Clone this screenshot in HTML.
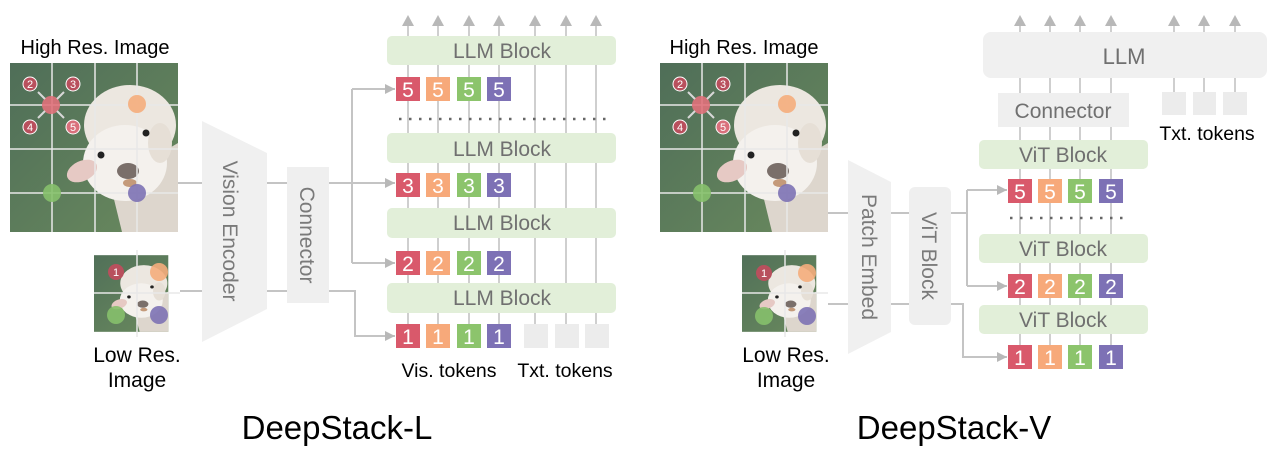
<!DOCTYPE html>
<html><head><meta charset="utf-8"><style>
html,body{margin:0;padding:0;background:#fff;}
svg{display:block;}
text{font-family:"Liberation Sans",Arial,sans-serif;}
</style></head><body>
<svg width="1280" height="460" viewBox="0 0 1280 460" xmlns="http://www.w3.org/2000/svg">
<defs>
 <linearGradient id="bg" x1="0" y1="0" x2="1" y2="1">
  <stop offset="0" stop-color="#4f6e58"/><stop offset="1" stop-color="#6a8a5e"/>
 </linearGradient>
 <symbol id="alp" viewBox="0 0 168 169">
  <rect width="168" height="169" fill="url(#bg)"/>
  <polygon points="100,120 168,80 168,169 112,169" fill="#ddd6cd"/>
  <ellipse cx="120" cy="62" rx="46" ry="40" fill="#ece7e0"/>
  <ellipse cx="115" cy="100" rx="42" ry="38" fill="#f4f1ed"/>
  <ellipse cx="72" cy="108" rx="16" ry="10" fill="#e6c9c4" transform="rotate(-25 72 108)"/>
  <ellipse cx="150" cy="80" rx="12" ry="20" fill="#e6dfd6"/>
  <circle cx="91" cy="92" r="3.5" fill="#222"/>
  <circle cx="136" cy="70" r="3.5" fill="#222"/>
  <ellipse cx="118" cy="108" rx="11" ry="8" fill="#7a6f6a"/>
  <ellipse cx="120" cy="120" rx="7" ry="4" fill="#c49a7a"/>
 </symbol>
 <marker id="ah" viewBox="0 0 10 10" refX="10" refY="5" markerWidth="10" markerHeight="10" markerUnits="userSpaceOnUse" orient="auto">
  <path d="M0,0 L10,5 L0,10 z" fill="#b8b8b8"/>
 </marker>
</defs>

<!-- ================= LEFT: DeepStack-L ================= -->
<text x="95" y="54" font-size="20" text-anchor="middle" fill="#000">High Res. Image</text>
<svg x="10" y="63" width="168" height="169" viewBox="0 0 168 169" preserveAspectRatio="none"><use href="#alp"/></svg>
<g stroke="#e8e8e8" stroke-width="1.5">
 <line x1="52" y1="63" x2="52" y2="232"/><line x1="95" y1="63" x2="95" y2="232"/><line x1="137" y1="63" x2="137" y2="232"/>
 <line x1="10" y1="105" x2="178" y2="105"/><line x1="10" y1="149" x2="178" y2="149"/><line x1="10" y1="193" x2="178" y2="193"/>
</g>
<g id="dotsHi">
 <circle cx="51" cy="105" r="9" fill="#e0717a" opacity="0.9"/>
 <circle cx="137" cy="104" r="9" fill="#f5ad7c" opacity="0.9"/>
 <circle cx="52" cy="193" r="9" fill="#86c06c" opacity="0.9"/>
 <circle cx="137" cy="193" r="9" fill="#7d72b4" opacity="0.9"/>
 <g stroke="#d8d8d8" stroke-width="2">
  <line x1="45" y1="99" x2="38" y2="92"/><line x1="57" y1="99" x2="64" y2="92"/>
  <line x1="45" y1="111" x2="38" y2="118"/><line x1="57" y1="111" x2="64" y2="118"/>
 </g>
 <g font-size="11" fill="#fff" text-anchor="middle">
  <circle cx="30" cy="84" r="7" fill="#b8505d" stroke="#fff" stroke-width="1"/><text x="30" y="88">2</text>
  <circle cx="73" cy="84" r="7" fill="#b8505d" stroke="#fff" stroke-width="1"/><text x="73" y="88">3</text>
  <circle cx="30" cy="127" r="7" fill="#b8505d" stroke="#fff" stroke-width="1"/><text x="30" y="131">4</text>
  <circle cx="73" cy="127" r="7" fill="#d9707c" stroke="#fff" stroke-width="1"/><text x="73" y="131">5</text>
 </g>
</g>
<svg x="94" y="250" width="86" height="87" viewBox="20 0 148 169" preserveAspectRatio="none"><use href="#alp"/></svg>
<g stroke="#e8e8e8" stroke-width="1.5"><line x1="137" y1="250" x2="137" y2="337"/><line x1="94" y1="293" x2="180" y2="293"/></g>
<circle cx="116" cy="272" r="8" fill="#b8505d"/><text x="116" y="276" font-size="11" fill="#fff" text-anchor="middle">1</text>
<circle cx="159" cy="272" r="9" fill="#f5ad7c" opacity="0.9"/>
<circle cx="116" cy="315" r="9" fill="#86c06c" opacity="0.9"/>
<circle cx="159" cy="315" r="9" fill="#7d72b4" opacity="0.9"/>
<text x="137" y="362" font-size="21" text-anchor="middle">Low Res.</text>
<text x="137" y="387" font-size="21" text-anchor="middle">Image</text>

<g stroke="#c4c4c4" stroke-width="2" fill="none">
 <line x1="178" y1="183" x2="202" y2="183"/>
 <line x1="180" y1="291" x2="202" y2="291"/>
 <line x1="267" y1="183" x2="287" y2="183"/>
 <line x1="267" y1="291" x2="287" y2="291"/>
</g>
<polygon points="202,121 267,153 267,309 202,342" fill="#f0f0f0"/>
<text transform="translate(223,231) rotate(90)" font-size="21" fill="#7a7a7a" text-anchor="middle">Vision Encoder</text>
<rect x="287" y="167" width="42" height="136" fill="#efefef"/>
<text transform="translate(300,235) rotate(90)" font-size="21" fill="#7a7a7a" text-anchor="middle">Connector</text>

<g stroke="#cfcfcf" stroke-width="2">
 <line x1="408" y1="22" x2="408" y2="324"/><line x1="438" y1="22" x2="438" y2="324"/>
 <line x1="469" y1="22" x2="469" y2="324"/><line x1="499" y1="22" x2="499" y2="324"/>
 <line x1="535" y1="22" x2="535" y2="324"/><line x1="566" y1="22" x2="566" y2="324"/>
 <line x1="596" y1="22" x2="596" y2="324"/>
</g>
<g fill="#b8b8b8">
 <polygon points="402,26 414,26 408,15"/><polygon points="432,26 444,26 438,15"/>
 <polygon points="463,26 475,26 469,15"/><polygon points="493,26 505,26 499,15"/>
 <polygon points="529,26 541,26 535,15"/><polygon points="560,26 572,26 566,15"/>
 <polygon points="590,26 602,26 596,15"/>
</g>
<g fill="#e2efd9">
 <rect x="387" y="36" width="229" height="29" rx="5"/>
 <rect x="387" y="133" width="229" height="30" rx="5"/>
 <rect x="387" y="208" width="229" height="30" rx="5"/>
 <rect x="387" y="283" width="229" height="30" rx="5"/>
</g>
<g font-size="21" fill="#707070" text-anchor="middle">
 <text x="502" y="58">LLM Block</text><text x="502" y="156">LLM Block</text>
 <text x="502" y="230">LLM Block</text><text x="502" y="305">LLM Block</text>
</g>
<g stroke="#666" stroke-width="2.5" stroke-dasharray="2.5,7.5">
 <line x1="399" y1="119" x2="512" y2="119"/><line x1="523" y1="119" x2="606" y2="119"/>
</g>
<g stroke="#c4c4c4" stroke-width="2" fill="none">
 <polyline points="329,183 352,183" />
 <polyline points="352,89 352,263"/>
 <line x1="352" y1="89" x2="395" y2="89" marker-end="url(#ah)"/>
 <line x1="352" y1="183" x2="395" y2="183" marker-end="url(#ah)"/>
 <line x1="352" y1="263" x2="395" y2="263" marker-end="url(#ah)"/>
 <polyline points="329,291 355,291 355,336 395,336" marker-end="url(#ah)"/>
</g>
<g font-size="21" fill="#fff" text-anchor="middle">
 <g><rect x="396" y="77" width="24" height="24" fill="#d9596b"/><rect x="426" y="77" width="24" height="24" fill="#f7a97a"/><rect x="457" y="77" width="24" height="24" fill="#8cc46c"/><rect x="487" y="77" width="24" height="24" fill="#7d71b5"/>
  <text x="408" y="97">5</text><text x="438" y="97">5</text><text x="469" y="97">5</text><text x="499" y="97">5</text></g>
 <g><rect x="396" y="173" width="24" height="24" fill="#d9596b"/><rect x="426" y="173" width="24" height="24" fill="#f7a97a"/><rect x="457" y="173" width="24" height="24" fill="#8cc46c"/><rect x="487" y="173" width="24" height="24" fill="#7d71b5"/>
  <text x="408" y="193">3</text><text x="438" y="193">3</text><text x="469" y="193">3</text><text x="499" y="193">3</text></g>
 <g><rect x="396" y="251" width="24" height="24" fill="#d9596b"/><rect x="426" y="251" width="24" height="24" fill="#f7a97a"/><rect x="457" y="251" width="24" height="24" fill="#8cc46c"/><rect x="487" y="251" width="24" height="24" fill="#7d71b5"/>
  <text x="408" y="271">2</text><text x="438" y="271">2</text><text x="469" y="271">2</text><text x="499" y="271">2</text></g>
 <g><rect x="396" y="324" width="24" height="24" fill="#d9596b"/><rect x="426" y="324" width="24" height="24" fill="#f7a97a"/><rect x="457" y="324" width="24" height="24" fill="#8cc46c"/><rect x="487" y="324" width="24" height="24" fill="#7d71b5"/>
  <text x="408" y="344">1</text><text x="438" y="344">1</text><text x="469" y="344">1</text><text x="499" y="344">1</text></g>
</g>
<g fill="#ececec">
 <rect x="524" y="324" width="24" height="24"/><rect x="555" y="324" width="24" height="24"/><rect x="585" y="324" width="24" height="24"/>
</g>
<text x="449" y="377" font-size="19.5" text-anchor="middle">Vis. tokens</text>
<text x="565" y="377" font-size="19.5" text-anchor="middle">Txt. tokens</text>
<text x="337" y="439" font-size="33" text-anchor="middle">DeepStack-L</text>

<!-- ================= RIGHT: DeepStack-V ================= -->
<text x="744" y="54" font-size="20" text-anchor="middle">High Res. Image</text>
<svg x="660" y="63" width="168" height="169" viewBox="0 0 168 169" preserveAspectRatio="none"><use href="#alp"/></svg>
<g stroke="#e8e8e8" stroke-width="1.5">
 <line x1="702" y1="63" x2="702" y2="232"/><line x1="745" y1="63" x2="745" y2="232"/><line x1="787" y1="63" x2="787" y2="232"/>
 <line x1="660" y1="105" x2="828" y2="105"/><line x1="660" y1="149" x2="828" y2="149"/><line x1="660" y1="193" x2="828" y2="193"/>
</g>
<use href="#dotsHi" transform="translate(650,0)"/>
<svg x="742" y="250" width="86" height="87" viewBox="20 0 148 169" preserveAspectRatio="none"><use href="#alp"/></svg>
<g stroke="#e8e8e8" stroke-width="1.5"><line x1="785" y1="250" x2="785" y2="337"/><line x1="742" y1="293" x2="828" y2="293"/></g>
<circle cx="764" cy="273" r="8" fill="#b8505d"/><text x="764" y="277" font-size="11" fill="#fff" text-anchor="middle">1</text>
<circle cx="807" cy="273" r="9" fill="#f5ad7c" opacity="0.9"/>
<circle cx="764" cy="316" r="9" fill="#86c06c" opacity="0.9"/>
<circle cx="807" cy="316" r="9" fill="#7d72b4" opacity="0.9"/>
<text x="786" y="362" font-size="21" text-anchor="middle">Low Res.</text>
<text x="786" y="387" font-size="21" text-anchor="middle">Image</text>

<g stroke="#c4c4c4" stroke-width="2" fill="none">
 <line x1="828" y1="213" x2="848" y2="213"/><line x1="828" y1="304" x2="848" y2="304"/>
 <line x1="891" y1="213" x2="909" y2="213"/><line x1="891" y1="304" x2="909" y2="304"/>
</g>
<polygon points="848,160 891,182 891,332 848,354" fill="#f0f0f0"/>
<text transform="translate(862,257) rotate(90)" font-size="21" fill="#7a7a7a" text-anchor="middle">Patch Embed</text>
<rect x="909" y="187" width="42" height="138" rx="6" fill="#efefef"/>
<text transform="translate(922,256) rotate(90)" font-size="21" fill="#7a7a7a" text-anchor="middle">ViT Block</text>

<g stroke="#cfcfcf" stroke-width="2">
 <line x1="1020" y1="22" x2="1020" y2="345"/><line x1="1050" y1="22" x2="1050" y2="345"/>
 <line x1="1080" y1="22" x2="1080" y2="345"/><line x1="1111" y1="22" x2="1111" y2="345"/>
 <line x1="1174" y1="22" x2="1174" y2="92"/><line x1="1204" y1="22" x2="1204" y2="92"/>
 <line x1="1235" y1="22" x2="1235" y2="92"/>
</g>
<g fill="#b8b8b8">
 <polygon points="1014,26 1026,26 1020,15"/><polygon points="1044,26 1056,26 1050,15"/>
 <polygon points="1074,26 1086,26 1080,15"/><polygon points="1105,26 1117,26 1111,15"/>
 <polygon points="1168,26 1180,26 1174,15"/><polygon points="1198,26 1210,26 1204,15"/>
 <polygon points="1229,26 1241,26 1235,15"/>
</g>
<rect x="983" y="32" width="284" height="46" rx="8" fill="#f0f0f0"/>
<text x="1124" y="64" font-size="22" fill="#707070" text-anchor="middle">LLM</text>
<rect x="998" y="93" width="131" height="34" fill="#efefef"/>
<text x="1063" y="118" font-size="21" fill="#707070" text-anchor="middle">Connector</text>
<g fill="#ececec"><rect x="1162" y="92" width="24" height="23"/><rect x="1193" y="92" width="23" height="23"/><rect x="1223" y="92" width="24" height="23"/></g>
<text x="1207" y="140" font-size="19.5" text-anchor="middle">Txt. tokens</text>
<g fill="#e2efd9">
 <rect x="979" y="140" width="169" height="29" rx="5"/>
 <rect x="979" y="234" width="169" height="29" rx="5"/>
 <rect x="979" y="305" width="169" height="29" rx="5"/>
</g>
<g font-size="21" fill="#707070" text-anchor="middle">
 <text x="1063" y="162">ViT Block</text><text x="1063" y="256">ViT Block</text><text x="1063" y="327">ViT Block</text>
</g>
<g stroke="#666" stroke-width="2.5" stroke-dasharray="2.5,7.5">
 <line x1="1010" y1="218" x2="1124" y2="218"/>
</g>
<g stroke="#c4c4c4" stroke-width="2" fill="none">
 <line x1="951" y1="213" x2="967" y2="213"/>
 <line x1="967" y1="190" x2="967" y2="286"/>
 <line x1="967" y1="190" x2="1007" y2="190" marker-end="url(#ah)"/>
 <line x1="967" y1="286" x2="1007" y2="286" marker-end="url(#ah)"/>
 <polyline points="951,304 963,304 963,357 1007,357" marker-end="url(#ah)"/>
</g>
<g font-size="21" fill="#fff" text-anchor="middle">
 <g><rect x="1008" y="179" width="24" height="24" fill="#d9596b"/><rect x="1038" y="179" width="24" height="24" fill="#f7a97a"/><rect x="1068" y="179" width="24" height="24" fill="#8cc46c"/><rect x="1099" y="179" width="24" height="24" fill="#7d71b5"/>
  <text x="1020" y="199">5</text><text x="1050" y="199">5</text><text x="1080" y="199">5</text><text x="1111" y="199">5</text></g>
 <g><rect x="1008" y="274" width="24" height="24" fill="#d9596b"/><rect x="1038" y="274" width="24" height="24" fill="#f7a97a"/><rect x="1068" y="274" width="24" height="24" fill="#8cc46c"/><rect x="1099" y="274" width="24" height="24" fill="#7d71b5"/>
  <text x="1020" y="294">2</text><text x="1050" y="294">2</text><text x="1080" y="294">2</text><text x="1111" y="294">2</text></g>
 <g><rect x="1008" y="345" width="24" height="24" fill="#d9596b"/><rect x="1038" y="345" width="24" height="24" fill="#f7a97a"/><rect x="1068" y="345" width="24" height="24" fill="#8cc46c"/><rect x="1099" y="345" width="24" height="24" fill="#7d71b5"/>
  <text x="1020" y="365">1</text><text x="1050" y="365">1</text><text x="1080" y="365">1</text><text x="1111" y="365">1</text></g>
</g>
<text x="954" y="439" font-size="33" text-anchor="middle">DeepStack-V</text>
</svg>
</body></html>
